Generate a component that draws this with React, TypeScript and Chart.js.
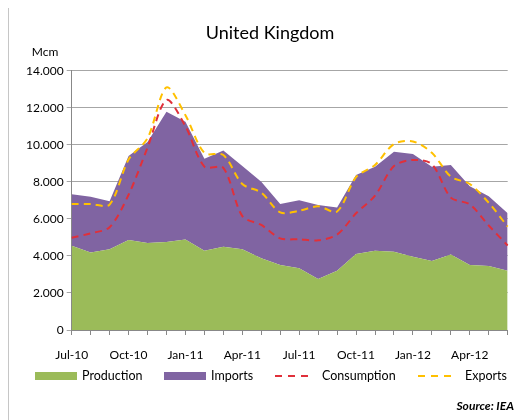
import React, { useEffect, useRef } from "react";
import { Chart, registerables } from "chart.js";

Chart.register(...registerables);

const months = [
  "Jul-10", "Aug-10", "Sep-10", "Oct-10", "Nov-10", "Dec-10",
  "Jan-11", "Feb-11", "Mar-11", "Apr-11", "May-11", "Jun-11",
  "Jul-11", "Aug-11", "Sep-11", "Oct-11", "Nov-11", "Dec-11",
  "Jan-12", "Feb-12", "Mar-12", "Apr-12", "May-12", "Jun-12",
];

const production = [4550, 4190, 4360, 4860, 4700, 4750, 4880, 4280, 4500, 4360, 3880, 3510, 3330, 2750, 3200, 4100, 4280, 4230, 3960, 3720, 4070, 3510, 3460, 3200];
const imports = [2780, 3010, 2590, 4540, 5450, 7040, 6370, 4970, 5190, 4490, 4130, 3290, 3670, 4000, 3420, 4270, 4540, 5400, 5540, 5100, 4840, 4250, 3760, 3100];
const consumption = [4980, 5220, 5550, 7300, 9850, 12420, 11000, 8820, 8750, 6150, 5670, 4950, 4900, 4840, 5150, 6300, 7250, 8850, 9180, 8950, 7150, 6780, 5640, 4560];
const exportsData = [6800, 6800, 6770, 9200, 10350, 13100, 11600, 9560, 9450, 7880, 7420, 6350, 6440, 6680, 6400, 8250, 8910, 10040, 10180, 9570, 8280, 7880, 6870, 5580];

const yMax = 14000;
const yStep = 2000;

const GREEN = "#9BBB59";
const PURPLE = "#8064A2";
const RED = "#E0303A";
const YELLOW = "#FFC000";
const FONT = "Lato, 'Open Sans', sans-serif";

function fmt(v: number): string {
  return Math.round(v).toString().replace(/\B(?=(\d{3})+(?!\d))/g, ".");
}

export default function App() {
  const ref = useRef<HTMLCanvasElement | null>(null);

  useEffect(() => {
    document.body.style.overflow = "hidden";
    const canvas = ref.current;
    if (!canvas) return;
    const chart = new Chart(canvas, {
      type: "line",
      data: {
        labels: months,
        datasets: [
          {
            label: "Production",
            data: production,
            fill: "origin",
            backgroundColor: GREEN,
            borderWidth: 0,
            borderColor: GREEN,
            pointRadius: 0,
            tension: 0,
            stack: "supply",
            order: 3,
          },
          {
            label: "Imports",
            data: imports,
            fill: "-1",
            backgroundColor: PURPLE,
            borderWidth: 0,
            borderColor: PURPLE,
            pointRadius: 0,
            tension: 0,
            stack: "supply",
            order: 3,
          },
          {
            label: "Consumption",
            data: consumption,
            fill: false,
            borderColor: RED,
            borderWidth: 2,
            borderDash: [7, 5],
            pointRadius: 0,
            tension: 0.3,
            stack: "cons",
            order: 1,
          },
          {
            label: "Exports",
            data: exportsData,
            fill: false,
            borderColor: YELLOW,
            borderWidth: 2,
            borderDash: [7, 5],
            pointRadius: 0,
            tension: 0.3,
            stack: "exp",
            order: 0,
          },
        ],
      },
      options: {
        responsive: false,
        animation: false,
        devicePixelRatio: 1,
        layout: { padding: { left: 3.7, right: 20.3, top: 62.7, bottom: 50 } },
        plugins: {
          legend: { display: false },
          title: { display: false },
          tooltip: { enabled: false },
        },
        scales: {
          x: {
            type: "category",
            offset: false,
            afterFit: (s: any) => { s.height = 40; },
            grid: {
              drawOnChartArea: false,
              drawTicks: true,
              tickLength: 5,
              color: "#888888",
            },
            border: { display: true, color: "#888888", width: 1 },
            ticks: {
              autoSkip: false,
              maxRotation: 0,
              minRotation: 0,
              padding: 13,
              color: "#000",
              font: { family: FONT, size: 12 },
              callback: (_v: any, i: number) => (i % 3 === 0 ? months[i] : ""),
            },
          },
          y: {
            stacked: true,
            min: 0,
            max: yMax,
            afterFit: (s: any) => { s.width = 60; },
            grid: {
              drawTicks: true,
              tickLength: 5,
              color: "#a6a6a6",
            },
            border: { display: true, color: "#888888", width: 1 },
            ticks: {
              stepSize: yStep,
              padding: 3,
              color: "#000",
              font: { family: FONT, size: 12 },
              callback: (v: any) => fmt(Number(v)),
            },
          },
        },
      },
    } as any);
    return () => chart.destroy();
  }, []);

  const text = (s: string, style: React.CSSProperties) => (
    <div style={{ position: "absolute", whiteSpace: "nowrap", fontFamily: FONT, color: "#000", ...style }}>{s}</div>
  );

  const dash = (color: string, left: number) => (
    <svg style={{ position: "absolute", left, top: 364 }} width={36} height={8}>
      <line x1={0} y1={4} x2={36} y2={4} stroke={color} strokeWidth={2} strokeDasharray="7,6" />
    </svg>
  );

  return (
    <div style={{ position: "relative", width: 520, height: 412 }}>
      <div style={{ position: "absolute", left: 0, top: -1, width: 520, height: 413, borderLeft: "1px solid #c6c6c6", borderTop: "1px solid #c6c6c6", boxSizing: "border-box" }} />
      <canvas ref={ref} width={520} height={412} style={{ position: "absolute", left: 0, top: 0 }} />
      {text("United Kingdom", { left: 262, top: 13, fontSize: 18, lineHeight: "22px", transform: "translateX(-50%)" })}
      {text("Mcm", { left: 37, top: 36, fontSize: 12, lineHeight: "16px", transform: "translateX(-50%)" })}
      <div style={{ position: "absolute", left: 27, top: 364, width: 42, height: 8, background: GREEN }} />
      {text("Production", { left: 74, top: 360, fontSize: 12.5, lineHeight: "16px" })}
      <div style={{ position: "absolute", left: 156, top: 364, width: 42, height: 8, background: PURPLE }} />
      {text("Imports", { left: 203, top: 360, fontSize: 12.5, lineHeight: "16px" })}
      {dash(RED, 267)}
      {text("Consumption", { left: 314, top: 360, fontSize: 12.5, lineHeight: "16px" })}
      {dash(YELLOW, 410)}
      {text("Exports", { left: 457, top: 360, fontSize: 12.5, lineHeight: "16px" })}
      {text("Source: IEA", { right: 14, top: 390, fontSize: 12, lineHeight: "16px", fontWeight: "bold", fontStyle: "italic" })}
    </div>
  );
}
